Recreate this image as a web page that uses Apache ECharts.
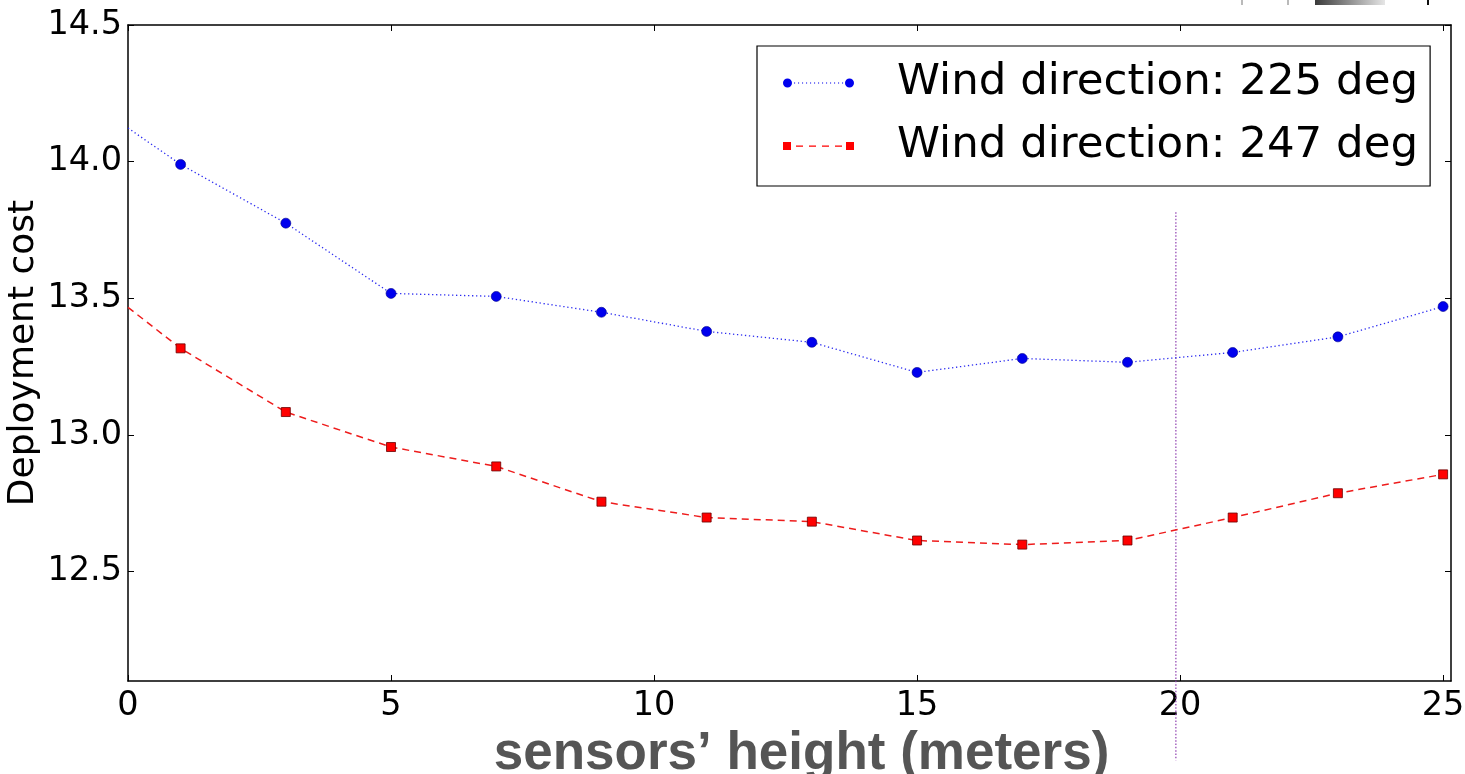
<!DOCTYPE html>
<html>
<head>
<meta charset="utf-8">
<script src="https://cdn.jsdelivr.net/npm/echarts@6/dist/echarts.min.js"></script>
<style>
  html, body { margin: 0; padding: 0; background: #fff; }
  #chart { width: 1465px; height: 774px; }
</style>
</head>
<body>
<div id="chart"></div>
<script>
// Sensor mounting height (m) and resulting deployment cost for two wind directions
const heights = [1, 3, 5, 7, 9, 11, 13, 15, 17, 19, 21, 23, 25];
const cost225 = [13.99, 13.775, 13.518, 13.507, 13.449, 13.379, 13.339, 13.229, 13.280, 13.266, 13.302, 13.359, 13.470];
const cost247 = [13.317, 13.084, 12.956, 12.885, 12.756, 12.698, 12.683, 12.614, 12.599, 12.614, 12.698, 12.787, 12.856];
// value where each curve enters the plot at height 0
const start225 = 14.123;
const start247 = 13.467;
// vertical reference marker near 20 m
const refX = 19.92;
const refY = [13.815, 11.81];

const xTicks = [0, 5, 10, 15, 20, 25];
const yTicks = [12.5, 13.0, 13.5, 14.0, 14.5];

const name225 = 'Wind direction: 225 deg';
const name247 = 'Wind direction: 247 deg';

function seriesData(startVal, vals) {
  const d = [{ value: [0, startVal], symbol: 'none' }];
  heights.forEach((h, i) => d.push([h, vals[i]]));
  return d;
}

// legend glyphs: marker - line pattern - marker
function circle(cx, cy, r) {
  return `M${cx - r},${cy} A${r},${r} 0 1,0 ${cx + r},${cy} A${r},${r} 0 1,0 ${cx - r},${cy} Z `;
}
function rect(x, y, w, h) {
  return `M${x},${y} L${x + w},${y} L${x + w},${y + h} L${x},${y + h} Z `;
}
let iconDots = circle(4.5, 4.5, 4.5) + circle(66.5, 4.5, 4.5);
for (let x = 11; x <= 59; x += 4) iconDots += rect(x, 4.0, 1.1, 1.1);
let iconDash = rect(0, 0.5, 8, 8) + rect(63, 0.5, 8, 8);
for (let x = 13; x <= 52; x += 13) iconDash += rect(x, 3.9, 7, 1.3);

const font = 'DejaVu Sans';
const chart = echarts.init(document.getElementById('chart'), null, { renderer: 'canvas' });

const axisLineStyle = { color: '#000', width: 1.5 };
const tickStyle = { show: true, inside: true, length: 6, lineStyle: { color: '#000', width: 1 } };

chart.setOption({
  animation: false,
  backgroundColor: '#fff',
  grid: { left: 128, top: 25, right: 14, bottom: 93, containLabel: false, outerBoundsMode: 'none' },
  legend: {
    orient: 'vertical',
    left: 757,
    top: 46,
    width: 673,
    padding: [12, 12, 15, 26],
    itemGap: 13,
    itemWidth: 71,
    itemHeight: 9,
    borderColor: '#000',
    borderWidth: 1.2,
    backgroundColor: '#fff',
    textStyle: { fontFamily: font, fontSize: 43.5, color: '#000', lineHeight: 50, padding: [0, 0, 0, 38] },
    data: [
      { name: name225, icon: 'path://' + iconDots, itemStyle: { color: '#0000ee', borderWidth: 0 } },
      { name: name247, icon: 'path://' + iconDash, itemStyle: { color: '#ff0000', borderWidth: 0 } }
    ]
  },
  xAxis: [{
    type: 'value', position: 'bottom', min: 0, max: 25.15,
    name: 'sensors\u2019 height (meters)', nameLocation: 'middle', nameGap: 40,
    nameTextStyle: { fontFamily: 'Liberation Sans', fontWeight: 'bold', fontSize: 53, color: '#555555', lineHeight: 52, padding: [0, 0, 0, 24] },
    axisLine: { show: true, onZero: false, lineStyle: axisLineStyle },
    axisTick: Object.assign({ customValues: xTicks }, tickStyle),
    axisLabel: { customValues: xTicks, margin: 8, fontFamily: font, fontSize: 33.5, color: '#000', formatter: v => String(v) },
    splitLine: { show: false }
  }, {
    type: 'value', position: 'top', min: 0, max: 25.15,
    axisLine: { show: true, onZero: false, lineStyle: axisLineStyle },
    axisTick: Object.assign({ customValues: xTicks }, tickStyle),
    axisLabel: { show: false },
    splitLine: { show: false }
  }],
  yAxis: [{
    type: 'value', position: 'left', min: 12.1, max: 14.5,
    name: 'Deployment cost', nameLocation: 'middle', nameGap: 83, nameRotate: 90,
    nameMoveOverlap: false,
    nameTextStyle: { fontFamily: font, fontSize: 36, color: '#000', lineHeight: 42 },
    axisLine: { show: true, onZero: false, lineStyle: axisLineStyle },
    axisTick: Object.assign({ customValues: yTicks }, tickStyle),
    axisLabel: { customValues: yTicks, margin: 6, fontFamily: font, fontSize: 33.5, color: '#000', formatter: v => v.toFixed(1) },
    splitLine: { show: false }
  }, {
    type: 'value', position: 'right', min: 12.1, max: 14.5,
    axisLine: { show: true, onZero: false, lineStyle: axisLineStyle },
    axisTick: Object.assign({ customValues: yTicks }, tickStyle),
    axisLabel: { show: false },
    splitLine: { show: false }
  }],
  series: [{
    name: name225,
    type: 'line',
    xAxisIndex: 0, yAxisIndex: 0,
    data: seriesData(start225, cost225),
    symbol: 'circle', symbolSize: 10,
    itemStyle: { color: '#0000ee', borderColor: '#00008b', borderWidth: 0.6 },
    lineStyle: { color: '#2a2af0', width: 1.3, type: [1.3, 2.7] },
    z: 3
  }, {
    name: name247,
    type: 'line',
    xAxisIndex: 0, yAxisIndex: 0,
    data: seriesData(start247, cost247),
    symbol: 'rect', symbolSize: 9,
    itemStyle: { color: '#ff0000', borderColor: '#6b0000', borderWidth: 0.8 },
    lineStyle: { color: '#ee1c1c', width: 1.5, type: [7, 5] },
    z: 3
  }, {
    type: 'line',
    xAxisIndex: 0, yAxisIndex: 0,
    data: refY.map(y => [refX, y]),
    symbol: 'none',
    clip: false,
    silent: true,
    lineStyle: { color: '#8e3fb0', width: 1.2, type: [1.5, 1.8] },
    z: 2
  }],
  graphic: [
    // cropped strip at the top edge
    { type: 'rect', shape: { x: 1241.5, y: 0, width: 1, height: 5 }, style: { fill: '#777' }, silent: true },
    { type: 'rect', shape: { x: 1287.5, y: 0, width: 1, height: 5 }, style: { fill: '#777' }, silent: true },
    { type: 'rect', shape: { x: 1315, y: 0, width: 70, height: 5 }, silent: true,
      style: { fill: new echarts.graphic.LinearGradient(0, 0, 1, 0, [
        { offset: 0, color: '#3a3a3a' }, { offset: 1, color: '#e6e6e6' }]) } },
    { type: 'rect', shape: { x: 1427, y: 0, width: 2, height: 5 }, style: { fill: '#111' }, silent: true }
  ]
});
</script>
</body>
</html>
